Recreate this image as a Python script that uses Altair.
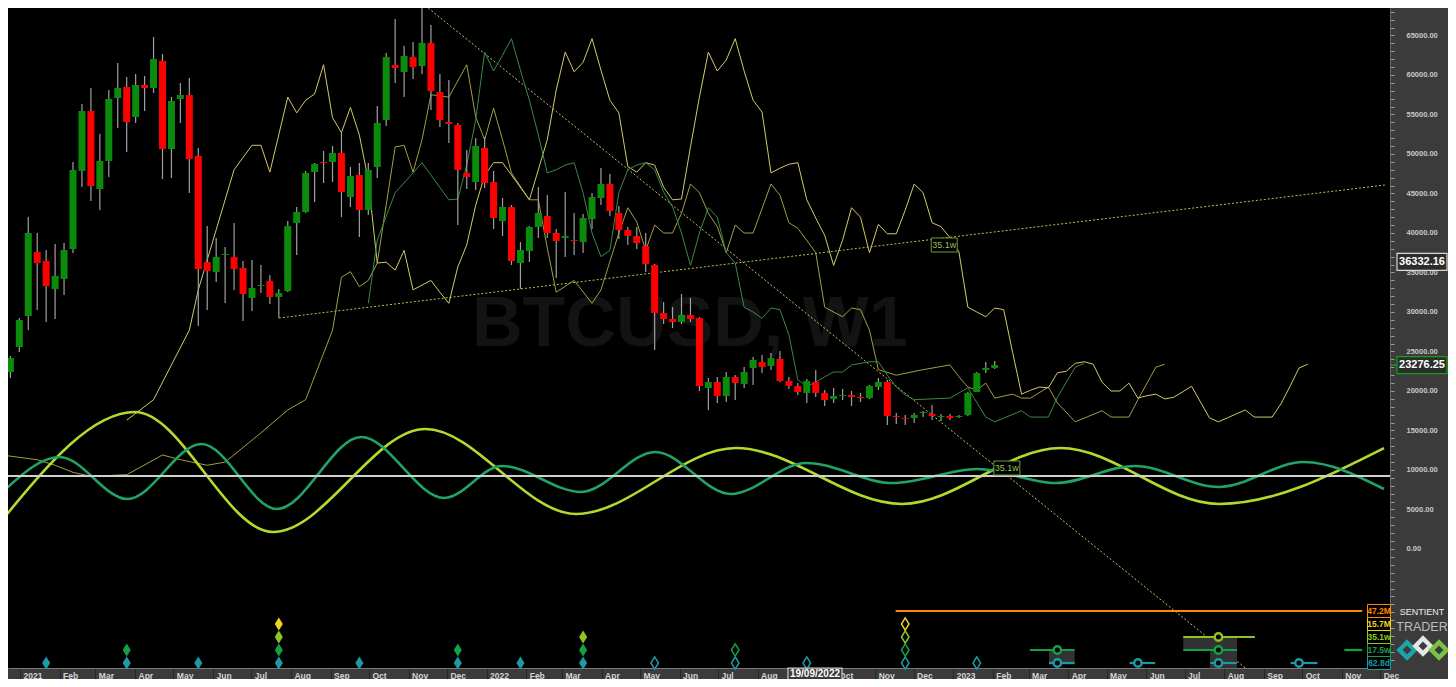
import altair as alt
import pandas as pd

# ------------------------------------------------------------------ data
FIRST_WEEK = "2020-12-21"          # Monday of the first weekly bar
SYMBOL_TEXT = "BTCUSD, W1"

OPEN = [22400, 25570, 29490, 37590, 36450, 32910, 34180, 37970, 47850, 55440,
        45570, 49110, 57090, 58480, 54680, 58730, 58350, 61770, 50630, 56960,
        57470, 49750, 36330, 35060, 37210, 36960, 35570, 31770, 33290, 33920,
        31900, 32660, 41260, 42660, 47720, 48990, 48990, 50130, 44560, 47340,
        42910, 48350, 54300, 61270, 60380, 62280, 61140, 64050, 57850, 54050,
        53670, 47590, 46450, 50760, 46450, 41520, 43290, 36200, 37720, 40760,
        42150, 40000, 39370, 39110, 38860, 41770, 44430, 46200, 42530, 40380,
        39620, 38350, 35950, 29870, 29110, 28730, 29620, 29240, 20380, 21140,
        19370, 21770, 20890, 22910, 23670, 23160, 24050, 21270, 20630, 19750,
        21140, 19750, 18990, 19370, 19490, 19240, 19110, 20510, 21140, 16840,
        16580, 16580, 17220, 17090, 16710, 16840, 16710, 16960, 19870, 22660,
        22910]
HIGH = [24430, 29240, 42020, 40000, 37850, 38610, 38730, 48990, 56330, 58350,
        52530, 58100, 61520, 59750, 60130, 59870, 64810, 62660, 57210, 58990,
        59620, 50760, 40880, 39370, 38230, 41260, 36450, 36580, 35950, 34680,
        32910, 41520, 43290, 47850, 48860, 50380, 51010, 52660, 48350, 48860,
        48860, 56080, 62780, 67090, 63670, 64180, 69110, 66330, 60130, 59370,
        53920, 50510, 52020, 52150, 47850, 44430, 43540, 38860, 40880, 45820,
        44810, 40500, 45190, 42530, 42400, 45060, 48230, 47470, 43420, 40760,
        40760, 40000, 36070, 31270, 30630, 32280, 31770, 29370, 21650, 21770,
        22400, 22030, 23040, 24300, 24560, 24810, 25060, 21770, 21010, 21520,
        22660, 20130, 20380, 20250, 20000, 19750, 20760, 21650, 21390, 17220,
        16960, 17220, 17470, 18230, 17090, 17090, 16960, 19870, 22400, 23670,
        23800]
LOW = [21650, 24940, 27720, 30250, 28730, 29110, 32150, 37470, 45820, 44050,
       42910, 47090, 53290, 50250, 53920, 55440, 57720, 46830, 46960, 53920,
       45060, 28230, 30250, 33800, 31140, 32780, 28860, 30130, 32400, 31010,
       29240, 32530, 37210, 42530, 43920, 46330, 46450, 42020, 43290, 39490,
       42280, 46960, 53540, 58990, 57210, 59490, 60130, 55570, 53420, 51390,
       41010, 45570, 45440, 45700, 40500, 39620, 35950, 32910, 36330, 39370,
       39370, 34300, 36960, 37210, 37470, 40500, 43540, 42150, 39240, 38480,
       37970, 35060, 25190, 28480, 27970, 28480, 28730, 20000, 17600, 18480,
       18610, 18860, 20380, 20760, 22280, 22660, 21140, 20250, 19490, 18480,
       19240, 18100, 18480, 18860, 18100, 18610, 18990, 20130, 15700, 15820,
       15700, 15950, 16710, 16330, 16200, 16330, 16580, 16840, 19870, 22280,
       22780]
CLOSE = [24180, 28990, 40000, 36200, 33290, 34560, 37850, 47970, 55440, 45950,
         49110, 56960, 58350, 54050, 58730, 58350, 62020, 50630, 56710, 57470,
         49370, 35440, 35190, 36960, 37340, 35440, 32280, 33040, 33420, 31900,
         32400, 40880, 42660, 47590, 48730, 48860, 50130, 45190, 47210, 42910,
         47970, 53920, 62280, 60890, 62400, 61010, 64050, 57970, 54300, 53800,
         47970, 47090, 51010, 46330, 41900, 43290, 36450, 37850, 40760, 42530,
         40000, 38990, 39620, 38990, 41900, 44560, 46200, 42780, 40380, 39620,
         38730, 36070, 29870, 29110, 28730, 29620, 29110, 20630, 21140, 19370,
         21770, 21010, 22400, 23920, 23040, 24180, 21270, 20630, 19870, 21270,
         19750, 18860, 19370, 19500, 19240, 19110, 20630, 21140, 16840, 16710,
         16460, 16960, 17340, 16840, 16840, 16580, 16840, 19750, 22280, 22910,
         23276.25]

# composite / projection lines (week number counted from FIRST_WEEK, price)
OLIVE_WEEKS = [-1, 3, 5, 7, 9, 13, 17, 19, 22, 24, 28, 31, 33, 36, 37, 38, 39, 40, 41, 43,
               44, 45, 46, 47, 49, 51, 52, 53, 54, 55, 56, 58, 59, 60, 61, 63, 65, 66, 68, 69,
               70, 71, 72, 73, 74, 75, 76, 77, 78, 79, 80, 81, 82, 83, 85, 86, 87, 88, 90, 91,
               93, 94, 95, 96, 97, 99, 102, 105, 106, 107, 108, 109, 110, 112, 113, 114, 116,
               117, 119, 122, 123, 125, 126, 128, 129]
OLIVE_PRICES = [11900, 11300, 10600, 9700, 9200, 9400, 11900, 11300, 10600, 11000,
                14700, 17600, 18900, 27700, 34400, 35100, 33200, 34000, 36200, 50900,
                51100, 47700, 51800, 57500, 57200, 61300, 54700, 51800, 55800, 51800,
                47600, 44200, 44200, 38100, 32500, 34000, 31100, 32800, 40000, 43200,
                41400, 37800, 41000, 40000, 40000, 42500, 46200, 45100, 42500, 40800,
                37500, 41000, 40000, 40000, 46200, 44800, 41300, 40600, 37500, 30600,
                29400, 30500, 30300, 27700, 22700, 22000, 22700, 23300, 21800, 20500,
                20100, 21000, 19100, 19600, 19100, 19100, 20500, 18500, 16100, 17500,
                16700, 16700, 18900, 23000, 23400]
YELLOW_WEEKS = [13, 16, 20, 21, 23, 25, 27, 28, 29] + list(range(31, 56)) + [58] + list(range(60, 146))
YELLOW_PRICES = [16300, 18900, 27700, 32800, 40400, 48000, 51100, 51100, 47700,
                 57200, 55200, 56800, 57600, 61300, 54600, 52700, 55900, 52400, 46700,
                 36200, 36300, 35300, 37800, 32800, 33400, 34000, 32500, 31100, 35700,
                 38500, 43500, 47300, 48900, 48900,
                 44200,
                 51800, 58100, 62900, 60400, 61600, 64600, 60600, 56800, 55200, 48400,
                 47700, 48900, 48600, 45800, 44200, 44300, 50900, 57200, 62900, 60500,
                 61900, 64600, 60500, 56800, 55300, 47600, 48200, 48700, 48900, 44200,
                 41900, 39700, 35900, 39100, 43200, 42000, 37500, 41100, 39900, 39900,
                 42900, 46200, 45100, 41300, 40800, 39400, 37600, 30600, 30000, 29400,
                 30500, 30300, 24900, 19600, 20100, 20500, 20400, 22300, 22500, 23500,
                 23700, 23400, 21100, 20000, 20000, 21000, 19100, 19400, 19600, 19000,
                 19200, 19900, 20600, 18600, 16600, 16100, 16600, 17100, 17600, 16700,
                 16700, 16700, 18400, 20600, 22900, 23400]
GREEN_WEEKS = [40, 41, 43, 45, 46] + list(range(49, 102)) + [105, 107, 109, 110, 113, 114, 116, 117, 119, 120]
GREEN_PRICES = [31100, 39100, 45100, 47600, 48900,
                44200, 44300, 48600, 54300, 62900, 60500, 62500, 64600, 60600, 56800,
                52400, 47600, 48000, 48600, 48900, 45100, 40000, 37000, 37800, 45100,
                48000, 48600, 48900, 48000, 45200, 43300, 40000, 35900, 40000, 43200,
                42000, 37500, 36200, 30600, 30000, 29200, 30500, 30300, 27100, 21400,
                20600, 21100, 21800, 22400, 22400, 23300, 23500, 23700, 23700, 22000,
                20500, 19500, 18900,
                19100, 20400, 16700, 16100, 17500, 16700, 16700, 19200, 23000, 23500]

# cycle waves (turning points)
LIME_DATES = ["2020-12-20", "2021-04-01", "2021-07-18", "2021-11-14", "2022-03-12",
              "2022-07-15", "2022-11-22", "2023-03-26", "2023-07-28", "2023-12-04"]
LIME_PRICES = [4050, 17340, 2150, 15190, 4430, 12780, 5700, 12780, 5700, 12780]
WAVE_DATES = ["2020-12-20", "2021-02-01", "2021-03-26", "2021-05-23", "2021-07-21",
              "2021-09-25", "2021-11-29", "2022-01-13", "2022-03-16", "2022-05-13",
              "2022-07-11", "2022-09-08", "2022-11-15", "2023-01-20", "2023-03-22",
              "2023-05-23", "2023-07-28", "2023-10-02", "2023-12-04"]
WAVE_PRICES = [7470, 11650, 6330, 13290, 5060, 14180, 6460, 10510, 7220, 12280,
               6960, 10890, 8350, 10130, 8350, 10510, 7850, 11010, 7590]
BASELINE_PRICE = 9240

# trend lines
TREND_NAMES = ["rise", "rise", "fall", "fall"]
TREND_DATES = ["2021-07-22T12:00:00Z", "2023-12-04T19:12:00Z", "2021-11-11T12:00:00Z", "2023-08-19T12:00:00Z"]
TREND_PRICES = [29240, 46075, 69110, -15317]

# cycle trough markers (date, level, filled)
LEVEL_NAMES = ["62.8d", "17.5w", "35.1w", "15.7M", "47.2M"]
LEVEL_COLORS = ["#1c9ba6", "#14a046", "#8cc622", "#f0d21c", "#ff8a00"]
DIAMOND_DATES = ["2021-01-21", "2021-03-25", "2021-03-25", "2021-05-20", "2021-07-22", "2021-07-22",
                 "2021-07-22", "2021-07-22", "2021-09-23", "2021-12-09", "2021-12-09", "2022-01-27",
                 "2022-03-17", "2022-03-17", "2022-03-17", "2022-05-12", "2022-07-14", "2022-07-14",
                 "2022-09-08", "2022-11-24", "2022-11-24", "2022-11-24", "2022-11-24", "2023-01-19"]
DIAMOND_LEVELS = [0, 0, 1, 0, 0, 1, 2, 3, 0, 0, 1, 0, 0, 1, 2, 0, 0, 1, 0, 0, 1, 2, 3, 0]
DIAMOND_FILLED = [1] * 15 + [0] * 9
CIRCLE_DATES = ["2023-03-23", "2023-03-23", "2023-05-25", "2023-07-27", "2023-07-27", "2023-07-27", "2023-09-28"]
CIRCLE_LEVELS = [0, 1, 0, 0, 1, 2, 0]
SPAN_START = ["2023-03-17", "2023-05-19", "2023-07-21", "2023-09-22", "2023-03-02", "2023-06-30",
              "2023-11-03", "2023-06-30", "2022-11-17"]
SPAN_END = ["2023-04-06", "2023-06-08", "2023-08-11", "2023-10-13", "2023-04-06", "2023-08-11",
            "2023-11-17", "2023-08-25", "2023-11-17"]
SPAN_LEVELS = [0, 0, 0, 0, 1, 1, 1, 2, 4]
BOX_START = ["2023-03-17", "2023-06-30", "2023-07-21"]
BOX_END = ["2023-04-06", "2023-08-11", "2023-08-11"]
BOX_LO = [-0.1, 1.0, -0.4]
BOX_HI = [1.0, 2.0, 1.0]

PRICE_TAGS = [36332.16, 23276.25]
PRICE_TAG_BORDERS = ["#d8d8d8", "#14a014"]
CYCLE_TAG_DATES = ["2022-12-25", "2023-02-12"]
CYCLE_TAG_PRICES = [38480, 10250]
CYCLE_TAG_TEXT = ["35.1w", "35.1w"]
CURSOR_DATE_TEXT = "19/09/2022"

# ------------------------------------------------------------------ helpers
FONT = "Liberation Sans"
BASE = pd.Timestamp(FIRST_WEEK, tz="UTC")


def week_mid(k):
    return (BASE + pd.Timedelta(days=7 * k + 3.5)).strftime("%Y-%m-%dT%H:%M:%SZ")


def noon(d):
    return d + "T12:00:00Z"


def ms(s):
    return int(pd.Timestamp(s).value // 10**6)


W, H = 1382, 660            # plot area (page offset 8 px)
X_SCALE = alt.Scale(type="utc", domain=[ms("2020-12-26T13:32:00Z"), ms("2023-12-04T19:12:00Z")], nice=False)
PRICE_SCALE = alt.Scale(domain=[-15063, 68479], nice=False, zero=False)
ROW_SCALE = alt.Scale(domain=[-0.3846, 50.38], nice=False, zero=False)

X_AXIS = alt.Axis(
    orient="bottom", title=None, grid=False,
    tickCount={"interval": "month", "step": 1},
    labelExpr=("utcFormat(datum.value, '%Y-%m') == '2022-09' ? '' : "
               "(utcFormat(datum.value, '%m') == '01' ? utcFormat(datum.value, '%Y') : utcFormat(datum.value, '%b'))"),
    labelAlign="left", labelBaseline="middle", labelOffset=3, labelPadding=-4,
    labelFlush=False, labelOverlap=False, labelFont=FONT, labelFontSize=8.5,
    labelFontWeight="bold", labelColor="#d4d4d4",
    tickSize=11, tickColor="#262626", tickWidth=1, domainColor="#7a7a7a")

Y_AXIS = alt.Axis(
    orient="right", title=None, grid=False, values=list(range(-14000, 68001, 1000)),
    labelExpr="datum.value >= 0 && datum.value % 5000 == 0 ? format(datum.value, '.2f') : ''",
    tickSize=4, tickColor="#9a9a9a", labelPadding=12, labelFont=FONT, labelFontSize=7.5,
    labelFontWeight="bold", labelColor="#c8c8c8", domainColor="#6a6a6a",
    labelFlush=False, labelOverlap=False, labelBaseline="middle", labelAlign="left")


def X(field="date"):
    return alt.X(f"{field}:T", scale=X_SCALE, axis=X_AXIS)


def PY(field="price", axis=None):
    return alt.Y(f"{field}:Q", scale=PRICE_SCALE, axis=axis)


def RY(field="level"):
    return alt.Y(f"{field}:Q", scale=ROW_SCALE, axis=None)


def LEVEL_COLOR():
    return alt.Color("level:N", scale=alt.Scale(domain=[0, 1, 2, 3, 4], range=LEVEL_COLORS), legend=None)


# ------------------------------------------------------------------ tables
candles = pd.DataFrame({
    "date": [week_mid(k) for k in range(len(OPEN))],
    "open": OPEN, "high": HIGH, "low": LOW, "close": CLOSE})


def weekly_line(weeks, prices):
    return pd.DataFrame([{"date": week_mid(w), "price": p} for w, p in zip(weeks, prices)])


def dated_line(dates, prices):
    return pd.DataFrame([{"date": d, "price": p} for d, p in zip(dates, prices)])


trends = pd.DataFrame({"name": TREND_NAMES, "date": TREND_DATES, "price": TREND_PRICES})
diamonds = pd.DataFrame({"date": [noon(d) for d in DIAMOND_DATES], "level": DIAMOND_LEVELS,
                         "filled": DIAMOND_FILLED})
circles = pd.DataFrame({"date": [noon(d) for d in CIRCLE_DATES], "level": CIRCLE_LEVELS})
spans = pd.DataFrame({"date": SPAN_START, "date2": SPAN_END, "level": SPAN_LEVELS})
boxes = pd.DataFrame({"date": BOX_START, "date2": BOX_END, "lo": BOX_LO, "hi": BOX_HI})
level_tags = pd.DataFrame({"level": list(range(5)), "label": LEVEL_NAMES})

# ------------------------------------------------------------------ layers
TALL_DIAMOND = "M0,-1L0.62,0L0,1L-0.62,0Z"


def BOX(h):
    return f"M-1,-{h}L1,-{h}L1,{h}L-1,{h}Z"


watermark = alt.Chart(pd.DataFrame({"date": ["2022-06-09"], "price": [28350], "t": [SYMBOL_TEXT]})).mark_text(
    font=FONT, fontSize=70, fontWeight="bold", color="#131313").encode(x=X(), y=PY(), text="t:N")


def trend(name, color):
    return alt.Chart(trends).transform_filter(f"datum.name == '{name}'").mark_line(
        strokeDash=[2, 2], strokeWidth=1, clip=True, color=color).encode(x=X(), y=PY())


def poly(df, color, width=1.0, interp="linear"):
    return alt.Chart(df).mark_line(strokeWidth=width, clip=True, color=color, interpolate=interp).encode(
        x=X(), y=PY())


olive_layer = poly(weekly_line(OLIVE_WEEKS, OLIVE_PRICES), "#a29f46")
yellow_layer = poly(weekly_line(YELLOW_WEEKS, YELLOW_PRICES), "#d3c96c")
green_layer = poly(weekly_line(GREEN_WEEKS, GREEN_PRICES), "#3a8a48")
lime_layer = poly(dated_line(LIME_DATES, LIME_PRICES), "#b2da2c", 2.6, "monotone")
wave_layer = poly(dated_line(WAVE_DATES, WAVE_PRICES), "#1fa466", 2.6, "monotone")

baseline = alt.Chart(pd.DataFrame({"price": [BASELINE_PRICE]})).mark_rule(
    color="#d0d0d0", strokeWidth=2).encode(y=PY())

wicks = alt.Chart(candles).mark_rule(color="#a0a0a0", strokeWidth=1.2).encode(
    x=X(), y=PY("low", Y_AXIS), y2="high:Q")

bodies = alt.Chart(candles).mark_bar(size=7).encode(
    x=X(), y=PY("open"), y2="close:Q",
    color=alt.condition("datum.close >= datum.open", alt.value("#0b8b0b"), alt.value("#ff0000")))

box_layer = alt.Chart(boxes).mark_rect(color="#323232").encode(
    x=X(), x2="date2:T", y=RY("lo"), y2="hi:Q")

span_layer = alt.Chart(spans).mark_rule(strokeWidth=2.2).encode(
    x=X(), x2="date2:T", y=RY(), color=LEVEL_COLOR())

circle_layer = alt.Chart(circles).mark_point(shape="circle", size=55, filled=False, fill="#000000",
                                             fillOpacity=1, strokeWidth=2.4, opacity=1).encode(
    x=X(), y=RY(), color=LEVEL_COLOR())

diamond_full = alt.Chart(diamonds).transform_filter("datum.filled == 1").mark_point(
    shape=TALL_DIAMOND, size=169, filled=True, opacity=1).encode(x=X(), y=RY(), color=LEVEL_COLOR())

diamond_open = alt.Chart(diamonds).transform_filter("datum.filled == 0").mark_point(
    shape=TALL_DIAMOND, size=150, filled=False, strokeWidth=1.5, opacity=1).encode(
    x=X(), y=RY(), color=LEVEL_COLOR())

level_boxes = alt.Chart(level_tags).mark_point(shape=BOX(0.565), size=529, filled=False, fill="#000000",
                                              fillOpacity=1, strokeWidth=1, opacity=1).encode(
    x=alt.value(1371), y=RY(), color=LEVEL_COLOR())
level_text = alt.Chart(level_tags).mark_text(font=FONT, fontSize=8.5, fontWeight="bold").encode(
    x=alt.value(1371), y=RY(), text="label:N", color=LEVEL_COLOR())

tags = pd.DataFrame({"price": PRICE_TAGS, "border": PRICE_TAG_BORDERS})
tag_box = alt.Chart(tags).mark_point(shape=BOX(0.34), size=2500, filled=False, fill="#2c2c2c",
                                     fillOpacity=1, strokeWidth=1.2, opacity=1).encode(
    x=alt.value(1414), y=PY(), color=alt.Color("border:N", scale=None))
tag_text = alt.Chart(tags).mark_text(font=FONT, fontSize=11, fontWeight="bold", color="#ffffff").encode(
    x=alt.value(1414), y=PY(), text=alt.Text("price:Q", format=".2f"))
tag_link = alt.Chart(pd.DataFrame({"price": [PRICE_TAGS[1]]})).mark_rule(color="#14a014", strokeWidth=1.5).encode(
    x=alt.value(1382), x2=alt.value(1389), y=PY())

ctags = pd.DataFrame({"date": CYCLE_TAG_DATES, "price": CYCLE_TAG_PRICES, "t": CYCLE_TAG_TEXT})
ctag_box = alt.Chart(ctags).mark_point(shape=BOX(0.54), size=676, filled=False, fill="#000000",
                                       fillOpacity=1, strokeWidth=1, opacity=1, color="#6f9a3a").encode(
    x=X(), y=PY())
ctag_text = alt.Chart(ctags).mark_text(font=FONT, fontSize=9, color="#9cc24e").encode(
    x=X(), y=PY(), text="t:N")

cursor_box = alt.Chart(pd.DataFrame({"t": [CURSOR_DATE_TEXT]})).mark_point(
    shape=BOX(0.22), size=2916, filled=False, fill="#3a3a3a", fillOpacity=1, strokeWidth=1.2,
    opacity=1, color="#cfcfcf").encode(x=alt.value(807), y=alt.value(666))
cursor_text = alt.Chart(pd.DataFrame({"t": [CURSOR_DATE_TEXT]})).mark_text(
    font=FONT, fontSize=10, fontWeight="bold", color="#ffffff").encode(
    x=alt.value(807), y=alt.value(666), text="t:N")

logo_text = alt.Chart(pd.DataFrame({"t": ["SENTIENT", "TRADER"], "y": [604, 619], "c": ["#eeeeee", "#bdbdbd"],
                                    "s": [9, 12.5]})).mark_text(font=FONT).encode(
    x=alt.value(1414), y=alt.Y("y:Q", scale=None), text="t:N", color=alt.Color("c:N", scale=None),
    size=alt.Size("s:Q", scale=None))
logo_marks = alt.Chart(pd.DataFrame({"px": [1399, 1415, 1431], "py": [642, 638, 642],
                                     "c": ["#1fa3a8", "#e6e6e6", "#7cc242"]})).mark_point(
    shape="diamond", size=230, filled=False, strokeWidth=4.5, opacity=1).encode(
    x=alt.X("px:Q", scale=None), y=alt.Y("py:Q", scale=None), color=alt.Color("c:N", scale=None))

layers = [watermark, trend("rise", "#b4c84a"), trend("fall", "#c4c462"),
          olive_layer, yellow_layer, green_layer, lime_layer, wave_layer, baseline, wicks, bodies,
          box_layer, span_layer, circle_layer, diamond_full, diamond_open,
          level_boxes, level_text, tag_link, tag_box, tag_text, ctag_box, ctag_text,
          cursor_box, cursor_text, logo_text, logo_marks]

chart = alt.layer(*layers).resolve_scale(y="independent", color="independent").properties(
    width=W, height=H,
    padding={"left": 0, "top": 0, "right": 58, "bottom": 11},
    autosize=alt.AutoSizeParams(type="none"),
    background="#3b3b3b",
).configure_view(fill="#000000", stroke=None)

chart.save("out.html", embed_options={"renderer": "svg", "actions": False})
